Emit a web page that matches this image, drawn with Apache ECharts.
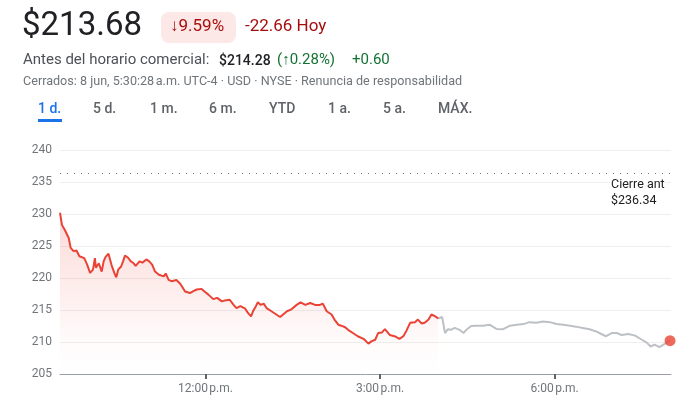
<!DOCTYPE html>
<html lang="es">

<head>
    <meta charset="UTF-8">
    <title>Cotización</title>
    <style>
        body {
            margin: 0;
            background: #fff;
        }

        #main {
            width: 700px;
            height: 407px;
        }
    </style>
    <script src="https://cdn.jsdelivr.net/npm/echarts/dist/echarts.min.js"></script>
</head>

<body>
    <div id="main"></div>

    <script>
        // horario regular (rojo)
        var regularTimes = ['9:30', '9:32', '9:33', '9:35', '9:39', '9:41', '9:44', '9:47', '9:50', '9:52', '9:55', '9:58',
            '10:01', '10:04', '10:06', '10:07', '10:10', '10:11', '10:13', '10:15', '10:17', '10:20', '10:23', '10:26', '10:28',
            '10:30', '10:33', '10:35', '10:37', '10:40', '10:43', '10:46', '10:48', '10:52', '10:55', '10:59', '11:02', '11:05',
            '11:08', '11:12', '11:17', '11:19', '11:22', '11:25', '11:30', '11:34', '11:39', '11:44', '11:47', '11:51', '11:56',
            '11:59', '12:03', '12:08', '12:12', '12:14', '12:17', '12:20', '12:25', '12:29', '12:32', '12:36', '12:41', '12:44',
            '12:47', '12:49', '12:52', '12:54', '12:57', '13:00', '13:03', '13:08', '13:13', '13:17', '13:20', '13:24', '13:28',
            '13:30', '13:34', '13:38', '13:43', '13:48', '13:53', '13:58', '14:01', '14:05', '14:10', '14:13', '14:17', '14:20',
            '14:24', '14:27', '14:32', '14:37', '14:43', '14:48', '14:51', '14:55', '14:58', '15:02', '15:05', '15:07', '15:10',
            '15:15', '15:20', '15:24', '15:27', '15:31', '15:36', '15:39', '15:43', '15:46', '15:50', '15:53', '15:57', '16:00'];
        var regularPrices = [230.2, 228.3, 228.6, 227.5, 226.25, 224.7, 224.2, 224.3, 223.4, 223.6, 223.1, 222.1,
            220.8, 221.3, 223.1, 221.6, 222.3, 222.1, 221.0, 222.6, 223.3, 223.8, 222.1, 220.8, 220.1,
            221.3, 221.8, 222.6, 223.5, 223.2, 222.6, 222.3, 221.9, 222.6, 222.4, 222.9, 222.6, 222.1,
            221.0, 220.5, 220.25, 220.7, 219.7, 219.5, 219.7, 219.1, 217.9, 217.65, 217.9, 218.2, 218.3,
            217.9, 217.4, 216.7, 216.9, 217.2, 216.35, 216.5, 216.6, 215.8, 215.3, 215.6, 215.2, 214.5,
            214.0, 214.8, 215.6, 216.2, 215.8, 216.0, 215.3, 214.8, 214.3, 213.9, 214.3, 214.8, 215.05,
            215.3, 215.8, 216.2, 215.8, 216.1, 215.8, 215.8, 216.0, 214.8, 214.3, 213.5, 212.7, 212.55,
            212.3, 211.9, 211.4, 210.9, 210.5, 209.75, 210.1, 210.35, 211.4, 211.5, 212.0, 211.9, 211.1,
            210.9, 210.5, 210.9, 211.7, 213.0, 213.1, 213.5, 212.9, 213.0, 213.5, 214.3, 214.0, 213.68];

        // fuera de horario (gris)
        var afterTimes = ['16:00', '16:04', '16:07', '16:10', '16:13', '16:17', '16:22', '16:26', '16:29', '16:34', '16:39',
            '16:46', '16:53', '17:00', '17:07', '17:14', '17:21', '17:28', '17:34', '17:41', '17:48', '17:55', '18:02',
            '18:09', '18:16', '18:22', '18:29', '18:36', '18:43', '18:48', '18:53', '18:59', '19:04', '19:09', '19:16',
            '19:23', '19:30', '19:35', '19:39', '19:43', '19:48', '19:54', '19:57', '19:59'];
        var afterPrices = [213.68, 213.9, 211.4, 212.0, 211.9, 212.2, 211.9, 211.4, 211.9, 212.5, 212.55,
            212.55, 212.7, 212.05, 212.0, 212.55, 212.7, 212.8, 213.1, 213.0, 213.2, 213.1, 212.8,
            212.7, 212.55, 212.4, 212.2, 212.0, 211.65, 211.25, 210.9, 211.4, 211.4, 211.1, 211.25,
            211.0, 210.35, 209.9, 209.3, 209.6, 209.2, 209.75, 210.1, 210.2];

        var prevClose = 236.34;
        var xTicks = ['12:00', '15:00', '18:00'];
        var xTickLabels = ['12:00\u202fp.m.', '3:00\u202fp.m.', '6:00\u202fp.m.'];
        var yTicks = [205, 210, 215, 220, 225, 230, 235, 240];

        // "9:30" -> minutos desde medianoche
        function toMin(t) {
            var p = t.split(':');
            return +p[0] * 60 + +p[1];
        }

        function pairs(times, prices) {
            return times.map(function (t, i) { return [toMin(t), prices[i]]; });
        }

        var tickMins = xTicks.map(toMin);
        var lastPoint = [toMin(afterTimes[afterTimes.length - 1]), afterPrices[afterPrices.length - 1]];

        var font = 'Roboto, Arial, sans-serif';
        var myChart = echarts.init(document.getElementById('main'), null, { renderer: 'canvas' });

        // texto de cabecera
        function txt(x, y, s, size, color, weight) {
            return {
                type: 'text', left: x, top: y, z: 10,
                style: { text: s, fontSize: size, fill: color, fontWeight: weight || 'normal', fontFamily: font }
            };
        }

        var option = {
            animation: false,
            backgroundColor: '#fff',
            textStyle: { fontFamily: font },
            grid: { left: 60, right: 29, top: 150, bottom: 33 },
            xAxis: {
                type: 'value',
                min: toMin('9:30'),
                max: toMin('20:00'),
                axisLine: { show: true, lineStyle: { color: '#9aa0a6', width: 1 } },
                axisTick: {
                    show: true,
                    customValues: tickMins,
                    length: 5,
                    lineStyle: { color: '#5f6368', width: 2 }
                },
                axisLabel: {
                    customValues: tickMins,
                    margin: 9,
                    color: '#70757a',
                    fontSize: 12,
                    fontFamily: font,
                    formatter: function (v) {
                        return xTickLabels[tickMins.indexOf(v)] || '';
                    }
                },
                splitLine: { show: false }
            },
            yAxis: {
                type: 'value',
                min: yTicks[0],
                max: yTicks[yTicks.length - 1],
                interval: 5,
                axisLine: { show: false },
                axisTick: { show: false },
                axisLabel: { color: '#70757a', fontSize: 12, margin: 8, fontFamily: font },
                splitLine: { lineStyle: { color: '#eeeeee', width: 1 } }
            },
            graphic: [
                txt(22, 10, '$213.68', 33, '#202124'),
                { type: 'rect', shape: { x: 161, y: 12, width: 75, height: 31, r: 8 }, style: { fill: '#fce8e6' } },
                txt(170, 18, '\u21939.59%', 17, '#a50e0e'),
                txt(245, 18, '-22.66 Hoy', 17, '#a50e0e'),
                txt(23, 53, 'Antes del horario comercial:', 15, '#4d5156'),
                txt(219, 54, '$214.28', 14, '#202124', 500),
                txt(277, 53, '(\u21910.28%)', 15, '#137333'),
                txt(352, 53, '+0.60', 15, '#137333'),
                txt(23, 75, 'Cerrados: 8 jun, 5:30:28\u202fa.m. UTC-4 \u00b7 USD \u00b7 NYSE \u00b7 Renuncia de responsabilidad', 12.6, '#70757a'),
                txt(38, 102, '1 d.', 14, '#1a73e8', 500),
                { type: 'rect', shape: { x: 38, y: 119, width: 24, height: 3 }, style: { fill: '#1a73e8' } },
                txt(93, 102, '5 d.', 14, '#5f6368', 500),
                txt(150, 102, '1 m.', 14, '#5f6368', 500),
                txt(209, 102, '6 m.', 14, '#5f6368', 500),
                txt(269, 102, 'YTD', 14, '#5f6368', 500),
                txt(328, 102, '1 a.', 14, '#5f6368', 500),
                txt(383, 102, '5 a.', 14, '#5f6368', 500),
                txt(438, 102, 'M\u00c1X.', 14, '#5f6368', 500),
                {
                    type: 'text', left: 610, top: 177, z: 10,
                    style: {
                        text: 'Cierre ant\n$' + prevClose.toFixed(2), fontSize: 12.5, lineHeight: 16,
                        fill: '#202124', fontFamily: font, backgroundColor: '#fff', padding: [0, 1]
                    }
                }
            ],
            series: [
                {
                    name: 'regular',
                    type: 'line',
                    data: pairs(regularTimes, regularPrices),
                    showSymbol: false,
                    lineStyle: { color: '#ea4335', width: 2 },
                    areaStyle: {
                        origin: 'start',
                        color: new echarts.graphic.LinearGradient(0, 0, 0, 1, [
                            { offset: 0, color: 'rgba(234,67,53,0.28)' },
                            { offset: 0.8, color: 'rgba(234,67,53,0.03)' },
                            { offset: 1, color: 'rgba(234,67,53,0)' }
                        ])
                    },
                    markLine: {
                        silent: true,
                        symbol: 'none',
                        label: { show: false },
                        lineStyle: { color: '#70757a', type: [1, 6], width: 1 },
                        data: [{ yAxis: prevClose }]
                    },
                    z: 3
                },
                {
                    name: 'fuera de horario',
                    type: 'line',
                    data: pairs(afterTimes, afterPrices),
                    showSymbol: false,
                    lineStyle: { color: '#bdc1c6', width: 2 },
                    z: 2
                },
                {
                    name: 'último',
                    type: 'scatter',
                    data: [lastPoint],
                    symbolSize: 11,
                    itemStyle: { color: '#ea4335' },
                    z: 4
                }
            ]
        };

        myChart.setOption(option);
    </script>
</body>

</html>
